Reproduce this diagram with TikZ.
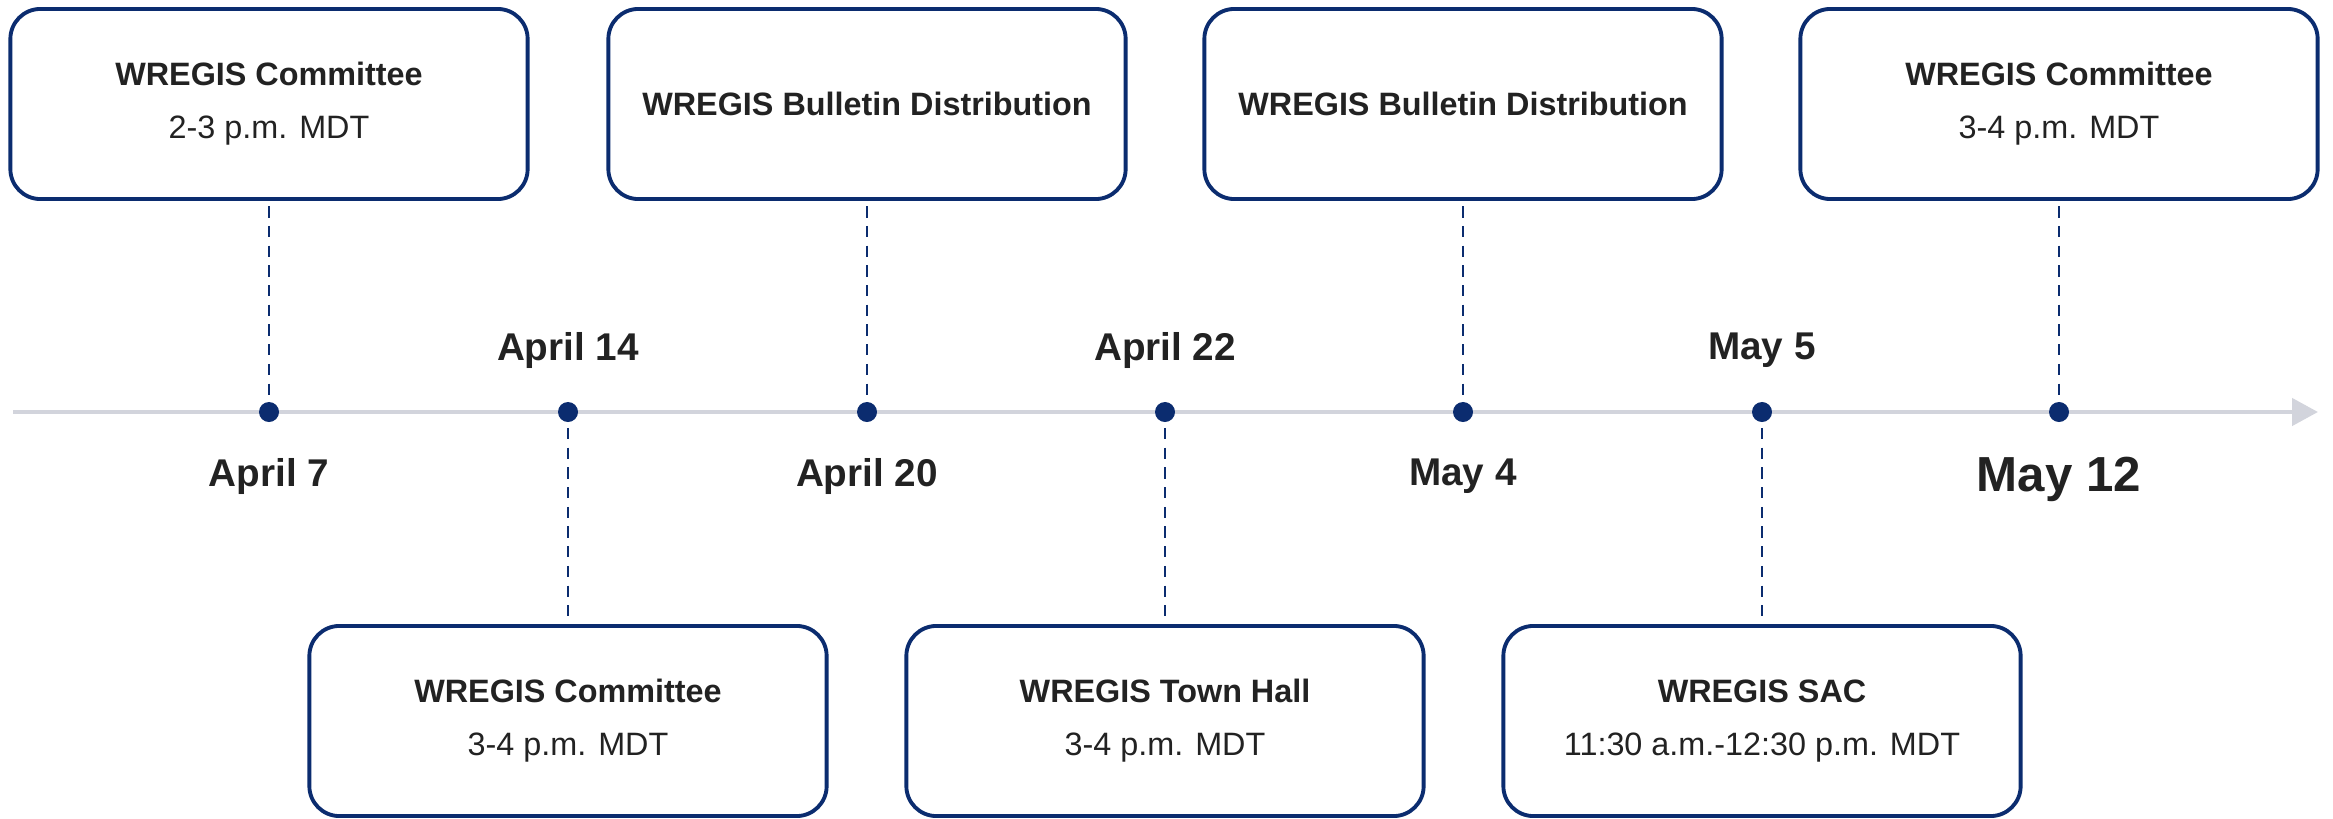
\documentclass[tikz,border=0pt]{standalone}
\usepackage{fontspec}
\setmainfont{Liberation Sans}
\usetikzlibrary{arrows.meta}
\definecolor{navy}{HTML}{0B2C6F}
\definecolor{axisgray}{HTML}{D2D4DC}
\definecolor{ink}{HTML}{222222}

\begin{document}
\begin{tikzpicture}
            [x=0.01cm,y=-0.01cm,
             event/.style={draw=navy,line width=1.1pt,rounded corners=0.3cm,fill=white,minimum width=5.17cm,minimum height=1.9cm,align=center,text=ink,font=\fontsize{9.2}{15}\selectfont},
             dot/.style={circle,fill=navy,inner sep=0pt,minimum size=0.2cm},
             date/.style={text=ink,font=\fontsize{11}{13}\selectfont\bfseries},
             link/.style={navy,line width=0.75pt,dash pattern=on 3.2pt off 2.4pt,shorten <=1.5pt,shorten >=1.5pt}]
            \useasboundingbox (0,0) rectangle (2333,818);
            \coordinate (S) at (13,412);
            \coordinate (E) at (2318,412);
            \draw[axisgray,line width=1.3pt,-{Triangle[length=0.26cm,width=0.27cm]}] (S) -- (E);

            \node[dot] (D1) at (269,412) {};
            \node[dot] (D2) at (568,412) {};
            \node[dot] (D3) at (867,412) {};
            \node[dot] (D4) at (1165,412) {};
            \node[dot] (D5) at (1463,412) {};
            \node[dot] (D6) at (1762,412) {};
            \node[dot] (D7) at (2059,412) {};

            \node[event] (T1) at (269,104) {\textbf{WREGIS Committee}\\2-3 p.m. MDT};
            \node[event] (T3) at (867,104) {\textbf{WREGIS Bulletin Distribution}};
            \node[event] (T5) at (1463,104) {\textbf{WREGIS Bulletin Distribution}};
            \node[event] (T7) at (2059,104) {\textbf{WREGIS Committee}\\3-4 p.m. MDT};
            \node[event] (B2) at (568,721) {\textbf{WREGIS Committee}\\3-4 p.m. MDT};
            \node[event] (B4) at (1165,721) {\textbf{WREGIS Town Hall}\\3-4 p.m. MDT};
            \node[event] (B6) at (1762,721) {\textbf{WREGIS SAC}\\11:30 a.m.-12:30 p.m. MDT};

            \node[date] (L1) at (269,476) {April 7};
            \node[date] (L2) at (568,350) {April 14};
            \node[date] (L3) at (867,476) {April 20};
            \node[date] (L4) at (1165,350) {April 22};
            \node[date] (L5) at (1463,476) {May 4};
            \node[date] (L6) at (1762,350) {May 5};
            \node[date,font=\fontsize{14}{16}\selectfont\bfseries] (L7) at (2059,479) {May 12};

            \draw[link] (T1) -- (D1);
            \draw[link] (T3) -- (D3);
            \draw[link] (T5) -- (D5);
            \draw[link] (T7) -- (D7);
            \draw[link] (D2) -- (B2);
            \draw[link] (D4) -- (B4);
            \draw[link] (D6) -- (B6);
        \end{tikzpicture}
\end{document}
